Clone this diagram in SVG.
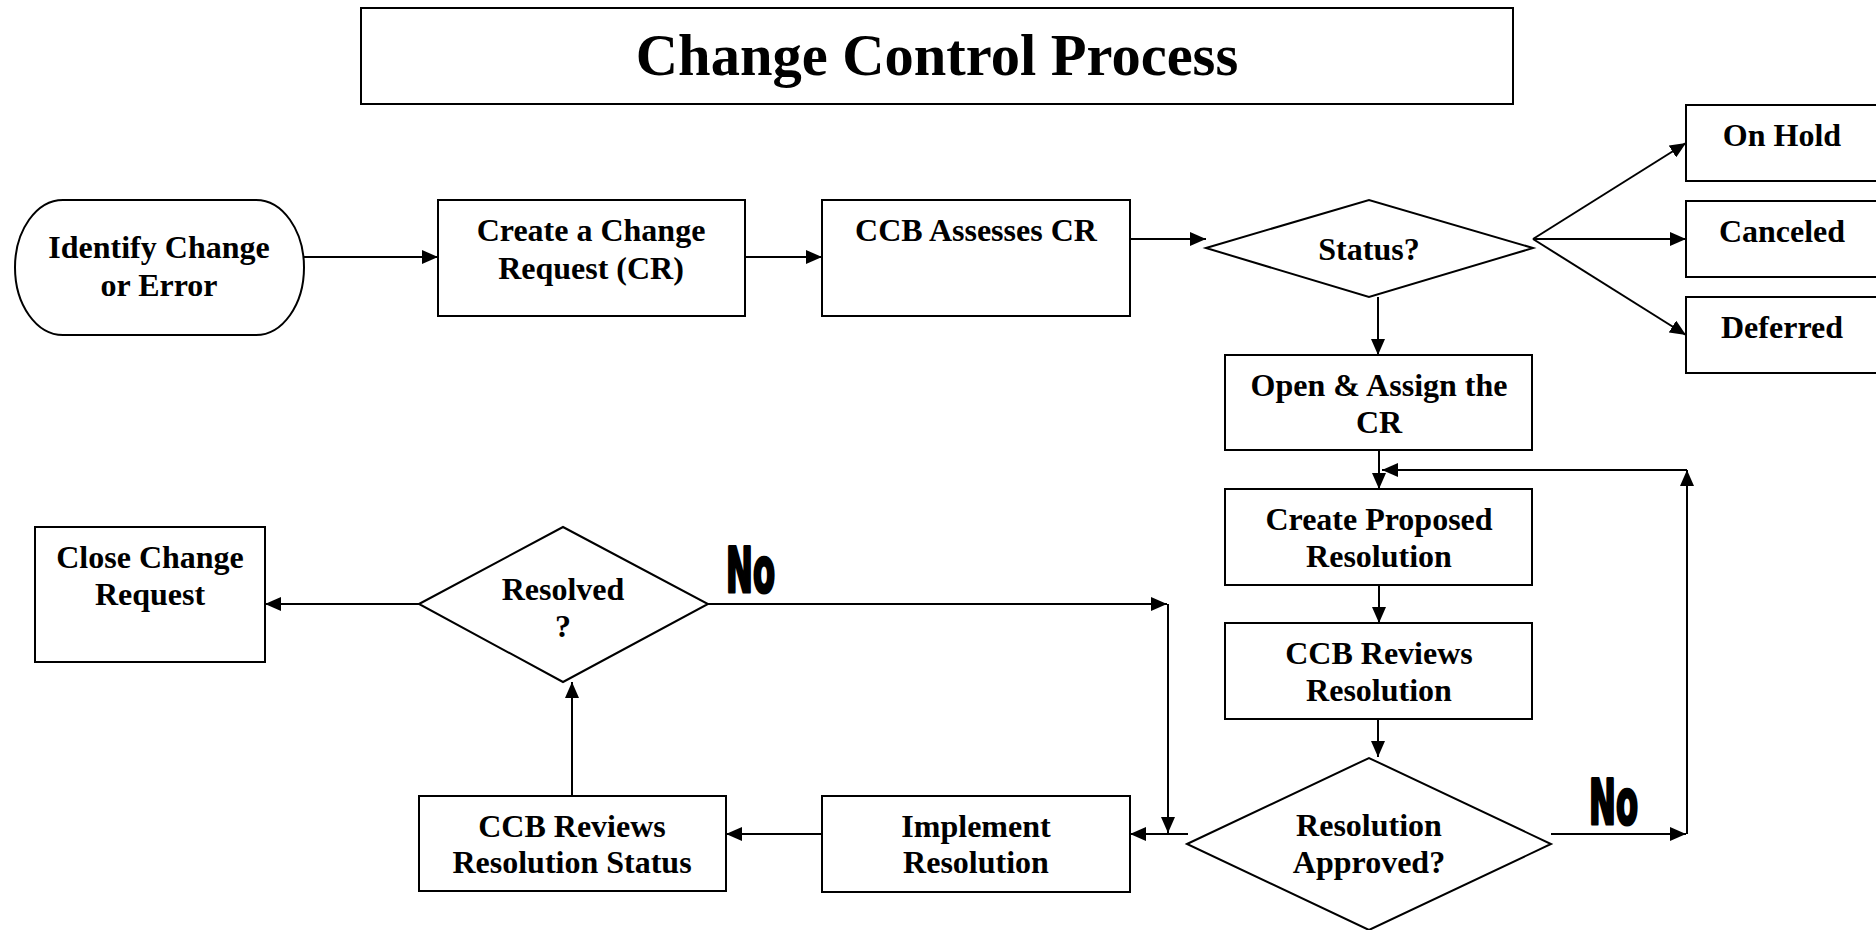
<svg xmlns="http://www.w3.org/2000/svg" width="1876" height="930" viewBox="0 0 1876 930">
<defs>
<style>
.box{fill:#fff;stroke:#000;stroke-width:2}
.t{font-family:"Liberation Serif","Times New Roman",serif;font-weight:bold;font-size:32px;text-anchor:middle;fill:#000}
.title{font-family:"Liberation Serif","Times New Roman",serif;font-weight:bold;font-size:58.5px;text-anchor:middle;fill:#000}
.no{font-family:"DejaVu Sans Condensed","DejaVu Sans",sans-serif;font-weight:bold;font-size:62px;fill:#000;stroke:#000;stroke-width:3;stroke-linejoin:round}
.c{fill:none;stroke:#000;stroke-width:2;marker-end:url(#ah)}
</style>
<marker id="ah" viewBox="0 0 16 14" refX="16" refY="7" markerWidth="16" markerHeight="14" markerUnits="userSpaceOnUse" orient="auto">
<path d="M0,0 L16,7 L0,14 Z" fill="#000"/>
</marker>
</defs>
<rect width="1876" height="930" fill="#fff"/>

<g id="title">
<rect class="box" x="361" y="8" width="1152" height="96"/>
<text class="title" x="937" y="75">Change Control Process</text>
</g>

<g id="identify">
<path class="box" d="M63 200 H256 A48 67.5 0 0 1 256 335 H63 A48 67.5 0 0 1 63 200 Z"/>
<text class="t" x="159" y="258">Identify Change</text>
<text class="t" x="159" y="296">or Error</text>
</g>

<g id="create-cr">
<rect class="box" x="438" y="200" width="307" height="116"/>
<text class="t" x="591" y="241">Create a Change</text>
<text class="t" x="591" y="279">Request (CR)</text>
</g>

<g id="ccb-assess">
<rect class="box" x="822" y="200" width="308" height="116"/>
<text class="t" x="976" y="241">CCB Assesses CR</text>
</g>

<g id="status">
<polygon class="box" points="1206,248 1369,200 1533,248 1369,297"/>
<text class="t" x="1369" y="260">Status?</text>
</g>

<g id="on-hold">
<rect class="box" x="1686" y="105" width="200" height="76"/>
<text class="t" x="1782" y="146">On Hold</text>
</g>

<g id="canceled">
<rect class="box" x="1686" y="201" width="200" height="76"/>
<text class="t" x="1782" y="242">Canceled</text>
</g>

<g id="deferred">
<rect class="box" x="1686" y="297" width="200" height="76"/>
<text class="t" x="1782" y="338">Deferred</text>
</g>

<g id="open-assign">
<rect class="box" x="1225" y="355" width="307" height="95"/>
<text class="t" x="1379" y="396">Open &amp; Assign the</text>
<text class="t" x="1379" y="433">CR</text>
</g>

<g id="create-proposed">
<rect class="box" x="1225" y="489" width="307" height="96"/>
<text class="t" x="1379" y="530">Create Proposed</text>
<text class="t" x="1379" y="567">Resolution</text>
</g>

<g id="ccb-reviews">
<rect class="box" x="1225" y="623" width="307" height="96"/>
<text class="t" x="1379" y="664">CCB Reviews</text>
<text class="t" x="1379" y="701">Resolution</text>
</g>

<g id="resolution-approved">
<polygon class="box" points="1187,844 1369,758 1551,844 1369,930"/>
<text class="t" x="1369" y="836">Resolution</text>
<text class="t" x="1369" y="873">Approved?</text>
</g>

<g id="implement">
<rect class="box" x="822" y="796" width="308" height="96"/>
<text class="t" x="976" y="837">Implement</text>
<text class="t" x="976" y="873">Resolution</text>
</g>

<g id="ccb-reviews-status">
<rect class="box" x="419" y="796" width="307" height="95"/>
<text class="t" x="572" y="837">CCB Reviews</text>
<text class="t" x="572" y="873">Resolution Status</text>
</g>

<g id="resolved">
<polygon class="box" points="419,604 563,527 708,604 563,682"/>
<text class="t" x="563" y="600">Resolved</text>
<text class="t" x="563" y="637">?</text>
</g>

<g id="close">
<rect class="box" x="35" y="527" width="230" height="135"/>
<text class="t" x="150" y="568">Close Change</text>
<text class="t" x="150" y="605">Request</text>
</g>

<g id="connectors">
<path class="c" d="M304 257 H438"/>
<path class="c" d="M745 257 H822"/>
<path class="c" d="M1130 239 H1206"/>
<path class="c" d="M1533 239 L1686 143"/>
<path class="c" d="M1533 239 H1686"/>
<path class="c" d="M1533 239 L1686 335"/>
<path class="c" d="M1378 297 V355"/>
<path class="c" d="M1379 450 V489"/>
<path class="c" d="M1379 585 V623"/>
<path class="c" d="M1378 719 V757"/>
<path class="c" d="M1551 834 H1686"/>
<path class="c" d="M1687 834 V470"/>
<path class="c" d="M1687 470 H1382"/>
<path class="c" d="M1188 834 H1130"/>
<path class="c" d="M708 604 H1167"/>
<path class="c" d="M1168 604 V833"/>
<path class="c" d="M822 834 H726"/>
<path class="c" d="M572 796 V682"/>
<path class="c" d="M419 604 H265"/>
<text class="no" x="726" y="592" textLength="49" lengthAdjust="spacingAndGlyphs">No</text>
<text class="no" x="1589" y="824" textLength="49" lengthAdjust="spacingAndGlyphs">No</text>
</g>
</svg>
